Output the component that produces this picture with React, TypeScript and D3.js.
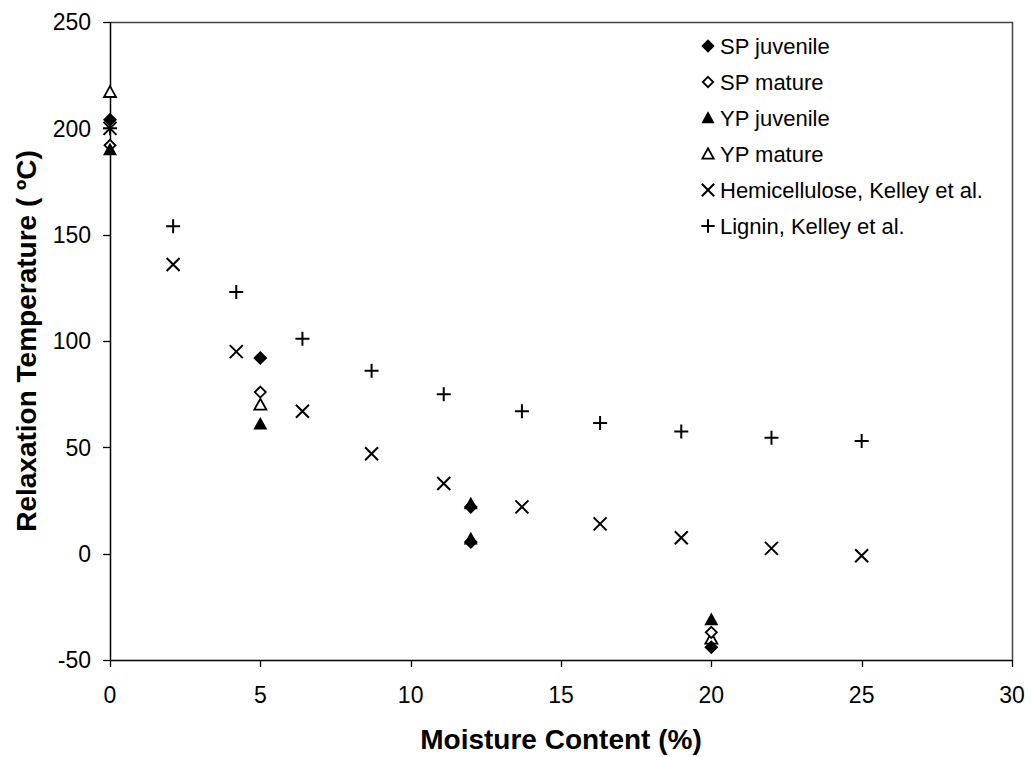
import React from "react";
import * as d3 from "d3";

const hemiX = [0, 2.1, 4.2, 6.4, 8.7, 11.1, 13.7, 16.3, 19.0, 22.0, 25.0];
const hemiY = [200, 136, 95, 67, 47, 33, 22, 14, 7.5, 2.5, -1];
const ligninX = [0, 2.1, 4.2, 6.4, 8.7, 11.1, 13.7, 16.3, 19.0, 22.0, 25.0];
const ligninY = [200, 154, 123, 101, 86, 75, 67, 61.5, 57.5, 54.5, 53];
const spJuvX = [0, 5, 12, 12, 20];
const spJuvY = [204, 92, 22, 5.5, -44];
const spMatX = [0, 5, 20];
const spMatY = [192, 76, -37];
const ypJuvX = [0, 5, 12, 12, 20];
const ypJuvY = [190, 61, 23.5, 7, -31];
const ypMatX = [0, 5, 20];
const ypMatY = [217, 70, -40];

const xTicks = [0, 5, 10, 15, 20, 25, 30];
const yTicks = [-50, 0, 50, 100, 150, 200, 250];

const seriesNames = [
  "SP juvenile",
  "SP mature",
  "YP juvenile",
  "YP mature",
  "Hemicellulose, Kelley et al.",
  "Lignin, Kelley et al.",
];

type Kind = "dFill" | "dOpen" | "tFill" | "tOpen" | "x" | "plus";

const series: { name: string; kind: Kind; xs: number[]; ys: number[] }[] = [
  { name: seriesNames[0], kind: "dFill", xs: spJuvX, ys: spJuvY },
  { name: seriesNames[1], kind: "dOpen", xs: spMatX, ys: spMatY },
  { name: seriesNames[2], kind: "tFill", xs: ypJuvX, ys: ypJuvY },
  { name: seriesNames[3], kind: "tOpen", xs: ypMatX, ys: ypMatY },
  { name: seriesNames[4], kind: "x", xs: hemiX, ys: hemiY },
  { name: seriesNames[5], kind: "plus", xs: ligninX, ys: ligninY },
];

const FONT = "Arial, 'Liberation Sans', sans-serif";

function Marker({ kind, x, y, s = 1 }: { kind: Kind; x: number; y: number; s?: number }) {
  const r = 7 * s;
  switch (kind) {
    case "dFill":
      return <path d={`M${x},${y - r}L${x + r},${y}L${x},${y + r}L${x - r},${y}Z`} fill="#000" />;
    case "dOpen": {
      const q = 5.5 * s;
      return (
        <path
          d={`M${x},${y - q}L${x + q},${y}L${x},${y + q}L${x - q},${y}Z`}
          fill="#fff"
          stroke="#000"
          strokeWidth={1.8}
        />
      );
    }
    case "tFill":
      return <path d={`M${x},${y - r}L${x + r},${y + r * 0.8}L${x - r},${y + r * 0.8}Z`} fill="#000" />;
    case "tOpen": {
      const q = 6 * s;
      return (
        <path
          d={`M${x},${y - q}L${x + q},${y + q * 0.8}L${x - q},${y + q * 0.8}Z`}
          fill="#fff"
          stroke="#000"
          strokeWidth={1.8}
        />
      );
    }
    case "x": {
      const q = 6.5 * s;
      return (
        <path
          d={`M${x - q},${y - q}L${x + q},${y + q}M${x - q},${y + q}L${x + q},${y - q}`}
          stroke="#000"
          strokeWidth={2}
        />
      );
    }
    case "plus": {
      const q = 7 * s;
      return <path d={`M${x - q},${y}L${x + q},${y}M${x},${y - q}L${x},${y + q}`} stroke="#000" strokeWidth={2} />;
    }
  }
}

export default function App() {
  const W = 1032;
  const H = 757;
  const left = 110;
  const right = 1012;
  const top = 22;
  const bottom = 660;
  const x = d3.scaleLinear().domain([0, 30]).range([left, right]);
  const y = d3.scaleLinear().domain([-50, 250]).range([bottom, top]);

  return (
    <svg
      width={W}
      height={H}
      style={{ position: "absolute", left: 0, top: 0, background: "#fff" }}
      fontFamily={FONT}
    >
      <rect x={0} y={0} width={W} height={H} fill="#fff" />
      {/* frame */}
      <path
        d={`M${left + 0.5},${top + 0.5}H${right + 0.5}V${bottom + 0.5}`}
        fill="none"
        stroke="#444"
        strokeWidth={1.5}
      />
      <line x1={left} x2={right} y1={bottom + 0.5} y2={bottom + 0.5} stroke="#000" strokeWidth={1.5} />
      <line x1={left + 0.5} x2={left + 0.5} y1={top} y2={bottom} stroke="#000" strokeWidth={1.5} />
      {/* y ticks */}
      {yTicks.map((t) => (
        <g key={"y" + t}>
          <line x1={left - 7} x2={left} y1={Math.round(y(t)) + 0.5} y2={Math.round(y(t)) + 0.5} stroke="#000" strokeWidth={1.3} />
          <text x={91} y={y(t)} dy="0.36em" textAnchor="end" fontSize={23} fill="#000">
            {t}
          </text>
        </g>
      ))}
      {/* x ticks */}
      {xTicks.map((t) => (
        <g key={"x" + t}>
          <line x1={Math.round(x(t)) + 0.5} x2={Math.round(x(t)) + 0.5} y1={bottom} y2={bottom + 7} stroke="#000" strokeWidth={1.3} />
          <text x={x(t)} y={695} dy="0.36em" textAnchor="middle" fontSize={23} fill="#000">
            {t}
          </text>
        </g>
      ))}
      {/* axis titles */}
      <text
        x={(left + right) / 2}
        y={749}
        textAnchor="middle"
        fontSize={28}
        fontWeight="bold"
        fill="#000"
      >
        Moisture Content (%)
      </text>
      <text
        transform={`translate(36,${(top + bottom) / 2}) rotate(-90)`}
        textAnchor="middle"
        fontSize={28}
        fontWeight="bold"
        fill="#000"
      >
        Relaxation Temperature  ( ºC)
      </text>
      {/* data: draw Kelley series first, then mature, then juvenile */}
      {[series[4], series[5], series[3], series[1], series[2], series[0]].map((s) => (
        <g key={s.name}>
          {s.xs.map((xv, i) => (
            <Marker key={i} kind={s.kind} x={x(xv)} y={y(s.ys[i])} />
          ))}
        </g>
      ))}
      {/* legend */}
      {series.map((s, i) => {
        const cy = 46 + i * 36;
        return (
          <g key={"lg" + s.name}>
            <Marker kind={s.kind} x={708} y={cy} s={0.95} />
            <text x={720} y={cy} dy="0.36em" fontSize={22} fill="#000">
              {s.name}
            </text>
          </g>
        );
      })}
    </svg>
  );
}
